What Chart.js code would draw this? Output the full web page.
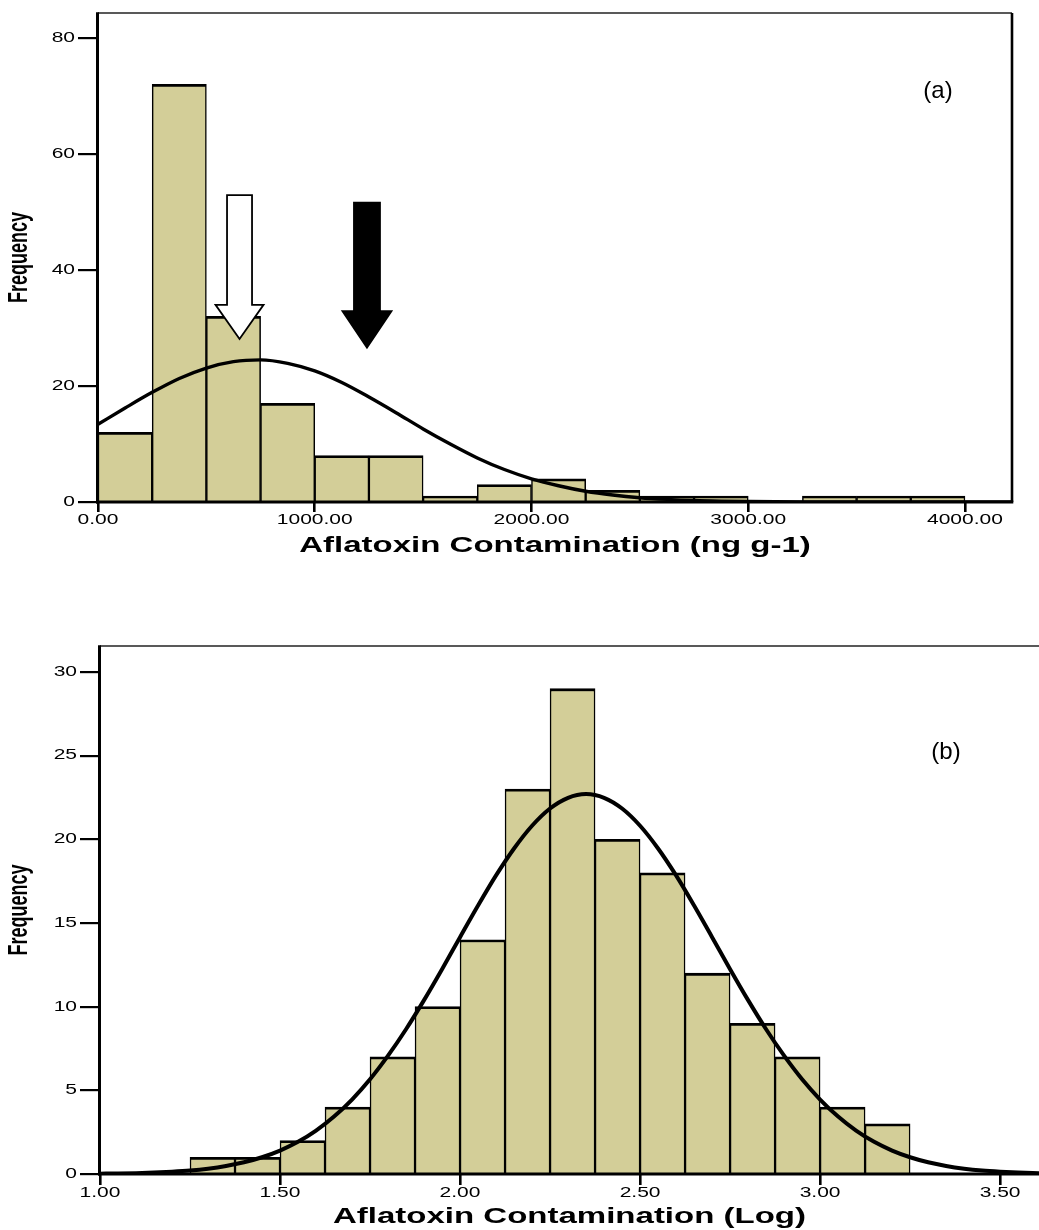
<!DOCTYPE html>
<html><head><meta charset="utf-8">
<script src="https://cdn.jsdelivr.net/npm/chart.js@4.4.1/dist/chart.umd.min.js"></script>
<style>
html,body{margin:0;padding:0;background:#fff;overflow:hidden;width:1039px;height:1230px}
canvas{position:absolute;left:0}
</style></head><body>
<canvas id="ca" width="1039" height="560" style="top:0"></canvas>
<canvas id="cb" width="1039" height="640" style="top:590px"></canvas>
<script>
// ---------- data: panel (a) ----------
const aBinStart = [0,250,500,750,1000,1250,1500,1750,2000,2250,2500,2750,3000,3250,3500,3750];
const aBinWidth = 250;
const aCounts   = [12,72,32,17,8,8,1,3,4,2,1,1,0,1,1,1];
const aCurveX = [0,125,250,375,500,625,750,875,1000,1125,1250,1375,1500,1625,1750,1875,2000,2125,2250,2375,2500,2625,2750,2875,3000,3125,3250,3500,3750,4000,4217];
const aCurveY = [13.4,16.2,18.9,21.3,23.1,24.2,24.5,23.9,22.6,20.6,18.1,15.4,12.6,10.0,7.6,5.6,4.0,2.8,1.85,1.2,0.74,0.45,0.25,0.14,0.08,0.04,0.02,0,0,0,0];
const aTicksX = [0,1000,2000,3000,4000];
const aTicksY = [0,20,40,60,80];
const aTitleX = 'Aflatoxin Contamination (ng g-1)';
// arrows (value coordinates): x, shaft top, head start, tip
const aArrowMedian = {x:653, top:52.9, head:34.0, tip:28.1};
const aArrowMean   = {x:1241, top:51.6, head:32.9, tip:26.6};

// ---------- data: panel (b) ----------
const bBinStart = [1.25,1.375,1.5,1.625,1.75,1.875,2.0,2.125,2.25,2.375,2.5,2.625,2.75,2.875,3.0,3.125];
const bBinWidth = 0.125;
const bCounts   = [1,1,2,4,7,10,14,23,29,20,18,12,9,7,4,3];
const bCurveX = [1.00,1.05,1.10,1.15,1.20,1.25,1.30,1.35,1.40,1.45,1.50,1.55,1.60,1.65,1.70,1.75,1.80,1.85,1.90,1.95,2.00,2.05,2.10,2.15,2.20,2.25,2.30,2.35,2.40,2.45,2.50,2.55,2.60,2.65,2.70,2.75,2.80,2.85,2.90,2.95,3.00,3.05,3.10,3.15,3.20,3.25,3.30,3.35,3.40,3.45,3.50,3.55,3.61];
const bCurveY = [0.02,0.03,0.05,0.09,0.14,0.21,0.32,0.48,0.70,1.00,1.40,1.92,2.59,3.43,4.45,5.66,7.07,8.65,10.39,12.24,14.15,16.04,17.84,19.45,20.81,21.84,22.48,22.7,22.48,21.84,20.81,19.45,17.84,16.04,14.15,12.24,10.39,8.65,7.07,5.66,4.45,3.43,2.59,1.92,1.40,1.00,0.70,0.48,0.32,0.21,0.14,0.09,0.05];
const bTicksX = [1.0,1.5,2.0,2.5,3.0,3.5];
const bTicksY = [0,5,10,15,20,25,30];
const bTitleX = 'Aflatoxin Contamination (Log)';

const BAR_FILL = '#d3ce98';
const STRETCH = 1.5;

// text stretched horizontally (like the original, horizontally scaled figure)
const stretchPlugin = {
  id: 'stretchText',
  beforeInit(chart) {
    const ctx = chart.ctx;
    const orig = ctx.fillText.bind(ctx);
    ctx.__origFillText = orig;
    ctx.fillText = function(text, x, y, maxWidth) {
      const m = ctx.getTransform();
      const px = m.a*x + m.c*y + m.e, py = m.b*x + m.d*y + m.f;
      ctx.save();
      ctx.setTransform(STRETCH, 0, 0, 1, px, py);
      ctx.transform(m.a, m.b, m.c, m.d, 0, 0);
      if (maxWidth === undefined) orig(text, 0, 0); else orig(text, 0, 0, maxWidth);
      ctx.restore();
    };
  }
};

const framePlugin = {
  id: 'frame',
  afterDatasetsDraw(chart, args, opts) {
    const {ctx, chartArea: ca} = chart;
    const xs = chart.scales.x, ys = chart.scales.y;
    const farRight = opts.rightBorder ? ca.right : chart.width;
    ctx.save();
    ctx.lineCap = 'butt';
    // top
    ctx.lineWidth = 1.6; ctx.strokeStyle = '#222';
    ctx.beginPath(); ctx.moveTo(ca.left, ca.top); ctx.lineTo(farRight, ca.top); ctx.stroke();
    ctx.strokeStyle = '#000';
    if (opts.rightBorder) {
      ctx.lineWidth = 2.6;
      ctx.beginPath(); ctx.moveTo(ca.right, ca.top); ctx.lineTo(ca.right, ca.bottom); ctx.stroke();
    }
    // left & bottom axis
    ctx.lineWidth = 3;
    ctx.beginPath(); ctx.moveTo(ca.left - 0.5, ca.top - 0.8); ctx.lineTo(ca.left - 0.5, ca.bottom + 1.5); ctx.stroke();
    ctx.beginPath(); ctx.moveTo(ca.left - 2, ca.bottom); ctx.lineTo(farRight + 1.3, ca.bottom); ctx.stroke();
    // arrows
    (opts.arrows || []).forEach(a => {
      const cx = xs.getPixelForValue(a.spec.x);
      const yt = ys.getPixelForValue(a.spec.top);
      const yh = ys.getPixelForValue(a.spec.head);
      const yp = ys.getPixelForValue(a.spec.tip);
      ctx.beginPath();
      ctx.moveTo(cx - a.shaft, yt);
      ctx.lineTo(cx + a.shaft, yt);
      ctx.lineTo(cx + a.shaft, yh);
      ctx.lineTo(cx + a.head, yh);
      ctx.lineTo(cx, yp);
      ctx.lineTo(cx - a.head, yh);
      ctx.lineTo(cx - a.shaft, yh);
      ctx.closePath();
      ctx.fillStyle = a.fill; ctx.fill();
      ctx.lineWidth = 1.8; ctx.lineJoin = 'miter'; ctx.strokeStyle = '#000'; ctx.stroke();
    });
    // panel label
    if (opts.label) {
      ctx.fillStyle = '#000';
      ctx.font = '24px "Liberation Sans", Arial, sans-serif';
      ctx.textAlign = 'center'; ctx.textBaseline = 'middle';
      ctx.__origFillText(opts.label.text, opts.label.x, opts.label.y);
    }
    ctx.restore();
  }
};

function makeChart(canvas, p) {
  const bars = p.binStart.map((s, i) => ({x: s + p.binWidth / 2, y: p.counts[i]}));
  const curve = p.curveX.map((x, i) => ({x: x, y: p.curveY[i]}));
  return new Chart(canvas, {
    type: 'bar',
    data: {
      datasets: [
        {type: 'line', data: curve, borderColor: '#000', borderWidth: p.curveWidth,
         pointRadius: 0, fill: false, tension: 0.4, cubicInterpolationMode: 'monotone', order: 0},
        {type: 'bar', data: bars, backgroundColor: BAR_FILL, borderColor: '#000',
         borderWidth: {top: 2.8, left: 1.5, right: 1.5, bottom: 0}, borderSkipped: false,
         barPercentage: 1.0, categoryPercentage: 1.0, order: 1}
      ]
    },
    options: {
      responsive: false, animation: false, events: [],
      layout: {padding: p.padding},
      plugins: {legend: {display: false}, tooltip: {enabled: false},
        frame: {rightBorder: p.rightBorder, arrows: p.arrows, label: p.label}},
      scales: {
        x: {
          type: 'linear', min: p.xMin, max: p.xMax, offset: false,
          afterBuildTicks: s => { s.ticks = p.ticksX.map(v => ({value: v})); },
          afterFit: s => { s.height = p.xAxisHeight; },
          ticks: {color: '#000', padding: 0, maxRotation: 0, autoSkip: false,
            font: {family: '"Liberation Sans", Arial, sans-serif', size: 14},
            callback: v => Number(v).toFixed(2)},
          grid: {drawOnChartArea: false, drawTicks: true, tickLength: p.xTickLen, color: '#000', lineWidth: 2.6, offset: false},
          border: {display: false},
          title: {display: true, text: p.titleX, color: '#000', padding: {top: 0, bottom: p.titlePadBottom},
            font: {family: '"Liberation Sans", Arial, sans-serif', size: 22, weight: 'bold'}}
        },
        y: {
          min: 0, max: p.yMax,
          afterBuildTicks: s => { s.ticks = p.ticksY.map(v => ({value: v})); },
          afterFit: s => { s.width = p.yAxisWidth; },
          ticks: {color: '#000', padding: 3,
            font: {family: '"Liberation Sans", Arial, sans-serif', size: 14},
            callback: v => String(v)},
          grid: {drawOnChartArea: false, drawTicks: true, tickLength: 20, color: '#000', lineWidth: 2.2},
          border: {display: false},
          title: {display: true, text: 'Frequency', color: '#000', padding: {top: 9, bottom: 0},
            font: {family: '"Liberation Sans", Arial, sans-serif', size: 18, weight: 'bold'}}
        }
      }
    },
    plugins: [stretchPlugin, framePlugin]
  });
}

makeChart(document.getElementById('ca'), {
  binStart: aBinStart, binWidth: aBinWidth, counts: aCounts,
  curveX: aCurveX, curveY: aCurveY, curveWidth: 3.4,
  ticksX: aTicksX, ticksY: aTicksY, titleX: aTitleX,
  xMin: 0, xMax: 4217, yMax: 84.3,
  padding: {left: 0, top: 13, right: 27, bottom: 0},
  yAxisWidth: 98, xAxisHeight: 58, xTickLen: 10, titlePadBottom: 1,
  rightBorder: true,
  arrows: [
    {spec: aArrowMedian, shaft: 12.5, head: 24, fill: '#fff'},
    {spec: aArrowMean, shaft: 13, head: 24.5, fill: '#000'}
  ],
  label: {text: '(a)', x: 938, y: 91}
});

makeChart(document.getElementById('cb'), {
  binStart: bBinStart, binWidth: bBinWidth, counts: bCounts,
  curveX: bCurveX, curveY: bCurveY, curveWidth: 4,
  ticksX: bTicksX, ticksY: bTicksY, titleX: bTitleX,
  xMin: 1.0, xMax: 3.608, yMax: 31.55,
  padding: {left: 0, top: 56, right: 0, bottom: 0},
  yAxisWidth: 100, xAxisHeight: 56, xTickLen: 11, titlePadBottom: 0,
  rightBorder: false,
  arrows: [],
  label: {text: '(b)', x: 946, y: 162}
});
</script></body></html>
